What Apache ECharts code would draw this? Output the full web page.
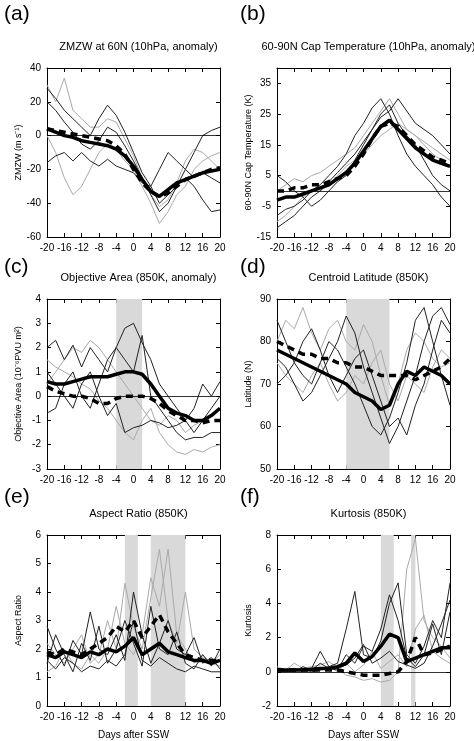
<!DOCTYPE html>
<html><head><meta charset="utf-8">
<script src="https://cdn.jsdelivr.net/npm/echarts@6/dist/echarts.min.js"></script>
<style>html,body{margin:0;background:#fff}#c{width:474px;height:741px}</style>
</head><body><div id="c"></div>
<script>
const days=[-20,-18,-16,-14,-12,-10,-8,-6,-4,-2,0,2,4,6,8,10,12,14,16,18,20];
const xTicks=[-20,-16,-12,-8,-4,0,4,8,12,16,20];
// (a) ZMZW
const aMean=[4,2,0,-1,-3,-4,-5,-6,-8,-12,-18,-26,-33,-36,-32,-28,-26,-24,-22,-21,-20];
const aDash=[4,3,2,1,0,-1,-2,-3,-6,-11,-20,-28,-33,-36,-34,-30,-26,-24,-22,-20,-19];
const aB1=[28,22,15,10,5,0,10,18,12,2,-10,-22,-30,-40,-35,-30,-25,-30,-38,-45,-44];
const aB2=[20,15,8,2,-5,-8,-3,5,2,-6,-15,-25,-35,-45,-40,-30,-20,-10,0,3,5];
const aB3=[-16,-12,-10,-15,-10,-15,-18,-14,-18,-20,-22,-28,-30,-20,-10,-15,-20,-25,-22,-25,-28];
const aG1=[0,-10,-25,-35,-30,-20,-10,-5,-8,-15,-20,-30,-40,-52,-45,-35,-30,-20,-15,-12,-10];
const aG2=[30,20,34,15,10,5,5,10,8,-2,-12,-25,-35,-42,-38,-28,-15,-8,-10,-15,-20];
// (b) Cap temperature
const bMean=[-3,-2,-2,-1,0,1,2,4,6,9,13,17,21,23,20,17,14,12,10,9,8];
const bDash=[0,0,1,1,2,2,3,4,5,8,12,17,21,22,21,18,15,13,11,10,9];
const bB1=[-8,-6,-5,-3,0,2,5,8,12,18,22,27,30,25,18,12,8,5,2,-2,-5];
const bB2=[5,3,0,-2,-5,-3,0,3,5,10,15,20,25,28,22,18,15,10,5,2,0];
const bB3=[-12,-10,-8,-5,-2,0,3,6,9,12,16,20,24,26,30,26,22,20,18,15,12];
const bG1=[0,2,4,3,5,6,8,10,12,14,18,22,26,30,25,20,18,15,12,10,8];
const bG2=[-10,-8,-5,-2,0,0,2,5,8,10,12,15,18,20,22,20,18,16,14,12,10];
// (c) Objective area
const cMean=[0.6,0.5,0.5,0.6,0.7,0.8,0.8,0.8,0.9,1.0,1.0,0.9,0.5,0.0,-0.5,-0.7,-0.8,-1.0,-1.0,-0.8,-0.5];
const cDash=[0.4,0.2,0.1,0,0,-0.1,-0.3,-0.3,-0.1,0,0,0,-0.1,-0.3,-0.6,-0.8,-1.0,-1.0,-1.1,-1.0,-1.0];
const cB1=[2,2.3,1.5,2.1,1.2,2,1.5,1,2,2.8,3,2.2,1.5,0.5,0,-0.5,-1,-1.5,-1,-0.5,0];
const cB2=[-0.7,-0.5,0.5,1,0,-0.5,0.5,1.5,2,1.5,1,2.5,0,-0.5,-1,-1.5,-1.8,-1.7,-1.7,-1.5,-1.5];
const cB3=[1,0.5,0,-0.5,0.5,1,0,-0.8,-0.3,-1.5,-1.3,-1.2,-1.0,-1.1,-1.3,-1.2,-1.0,-0.5,0.5,0,0.6];
const cG1=[0.5,1,1.5,2,1.8,2.3,2,1.5,1,0.5,0,-0.5,-1,-1.2,-0.8,-1,-1.5,-1.2,-1,-0.8,-0.5];
const cG2=[1.5,1.2,1.0,0.8,0.5,0.3,-0.2,-0.5,-1,-1.5,-1.8,-1,-0.5,-1.5,-2.0,-2.3,-2.4,-2.2,-2.3,-2.1,-2.0];
// (d) Centroid latitude
const dMean=[78,77,76,75,74,73,72,71,70,68,67,66,64,65,70,73,72,74,73,72,70];
const dDash=[80,79,78,77,77,76,76,75,75,74,74,73,72,72,72,72,71,72,73,74,76];
const dB1=[85,80,75,72,70,75,80,78,74,70,65,60,58,62,68,75,85,88,80,72,65];
const dB2=[70,72,75,80,83,78,72,68,72,76,78,72,66,60,62,58,65,70,78,85,82];
const dB3=[76,74,70,66,68,72,76,80,86,82,74,68,62,56,60,66,72,80,86,88,84];
const dG1=[80,85,83,88,82,78,83,85,80,78,84,80,72,65,70,78,82,80,76,74,75];
const dG2=[75,72,70,68,72,75,70,66,68,72,70,75,78,70,66,72,70,68,74,78,76];
// (e) Aspect ratio
const eMean=[1.8,1.7,1.9,1.8,1.7,1.9,1.8,2.0,1.9,2.1,2.4,1.8,2.0,2.2,1.9,1.8,1.7,1.6,1.6,1.5,1.6];
const eDash=[1.9,1.8,2.0,1.9,1.8,2.0,2.2,2.4,2.8,2.6,3.0,2.4,2.8,3.2,2.6,2.2,1.8,1.7,1.6,1.6,1.6];
const eB1=[1.5,2.5,1.8,1.2,2.2,1.6,2.8,1.5,2.0,3.0,2.2,1.4,3.5,2.0,1.8,2.6,1.5,1.3,1.8,1.4,2.0];
const eB2=[2.8,2.0,1.4,2.3,1.8,3.3,2.0,1.8,2.5,1.6,4.0,2.5,1.5,2.2,3.0,2.0,1.8,2.4,1.5,1.7,1.3];
const eB3=[1.6,1.3,1.7,1.5,1.2,1.4,1.3,1.6,1.4,1.8,3.0,1.6,1.4,1.7,1.5,1.3,1.2,1.4,1.3,1.2,1.2];
const eG1=[1.2,1.4,2.0,1.5,1.3,1.8,1.5,2.0,3.5,2.2,1.8,2.5,4.5,3.5,5.5,2.5,2.0,1.5,1.8,1.5,1.4];
const eG2=[2.2,1.8,1.5,2.0,2.5,1.5,1.8,3.0,2.0,4.3,2.8,2.0,3.8,5.5,3.0,2.2,4.0,2.0,1.7,1.5,1.8];
// (f) Kurtosis
const fMean=[0.1,0.1,0.1,0.1,0.15,0.2,0.2,0.3,0.5,1.1,0.6,0.9,1.5,2.2,2.0,0.6,0.8,1.0,1.2,1.4,1.4];
const fDash=[0.1,0.1,0.1,0.1,0.1,0.1,0.1,0.1,0,-0.1,-0.2,-0.2,-0.2,-0.1,0,0.6,2.0,1.0,1.1,1.3,1.5];
const fB1=[0.1,0.1,0.2,0.1,0.2,1.2,0.3,0.5,2.5,4.7,1.0,0.8,1.8,4.0,5.2,1.0,0.5,1.5,3.0,2.0,5.2];
const fB2=[0.2,0.1,0,0.3,0.1,0.5,0.2,0.1,1.0,0.5,1.5,1.2,2.5,4.5,3.0,0.8,0.3,1.0,2.8,1.0,3.5];
const fB3=[0.1,0,0.1,0.2,0,0.1,0.3,0.2,0.4,0.8,1.6,0.5,0.8,1.2,0.6,0.4,0.2,0.5,1.5,2.8,4.2];
const fG1=[0.3,0.1,0.5,0.2,0.3,0.4,0.6,0.2,-0.2,-0.3,-0.5,-0.4,-0.6,-0.5,0,6.0,7.8,3.0,2.0,1.5,0.8];
const fG2=[0.1,0,0.2,0.1,0,0.2,0.3,0,0.5,0,0.4,1.2,0.2,0.6,1.0,0.3,2.5,3.3,1.2,0.8,0.5];

const panels=[
 {lab:'(a)',title:'ZMZW at 60N (10hPa, anomaly)',yname:'ZMZW (m s⁻¹)',min:-60,max:40,ticks:[-60,-40,-20,0,20,40],zero:true,shade:[],
  mean:aMean,dash:aDash,blk:[aB1,aB2,aB3],gry:[aG1,aG2],g:{left:47,top:68,width:173,height:169}},
 {lab:'(b)',title:'60-90N Cap Temperature (10hPa, anomaly)',yname:'60-90N Cap Temperature (K)',min:-15,max:40,ticks:[-15,-5,5,15,25,35],zero:true,shade:[],
  mean:bMean,dash:bDash,blk:[bB1,bB2,bB3],gry:[bG1,bG2],g:{left:277,top:68,width:173,height:169}},
 {lab:'(c)',title:'Objective Area (850K, anomaly)',yname:'Objective Area (10⁻⁶PVU m²)',min:-3,max:4,ticks:[-3,-2,-1,0,1,2,3,4],zero:true,shade:[[-4,2]],
  mean:cMean,dash:cDash,blk:[cB1,cB2,cB3],gry:[cG1,cG2],g:{left:47,top:299,width:173,height:170}},
 {lab:'(d)',title:'Centroid Latitude (850K)',yname:'Latitude (N)',min:50,max:90,ticks:[50,60,70,80,90],zero:false,shade:[[-4,6]],
  mean:dMean,dash:dDash,blk:[dB1,dB2,dB3],gry:[dG1,dG2],g:{left:277,top:299,width:173,height:170}},
 {lab:'(e)',title:'Aspect Ratio (850K)',yname:'Aspect Ratio',min:0,max:6,ticks:[0,1,2,3,4,5,6],zero:false,shade:[[-2,1],[4,12]],
  mean:eMean,dash:eDash,blk:[eB1,eB2,eB3],gry:[eG1,eG2],g:{left:47,top:535,width:173,height:171},xname:'Days after SSW'},
 {lab:'(f)',title:'Kurtosis (850K)',yname:'Kurtosis',min:-2,max:8,ticks:[-2,0,2,4,6,8],zero:true,shade:[[4,7],[11,12]],
  mean:fMean,dash:fDash,blk:[fB1,fB2,fB3],gry:[fG1,fG2],g:{left:277,top:535,width:173,height:171},xname:'Days after SSW'}
];
const F='Liberation Sans, Arial, sans-serif';
const opt={animation:false,backgroundColor:'#fff',grid:[],xAxis:[],yAxis:[],series:[],title:[],graphic:[]};
const pair=(arr)=>days.map((d,i)=>[d,arr[i]]);
panels.forEach((p,k)=>{
  opt.grid.push(p.g);
  const ax0=opt.xAxis.length, ay0=opt.yAxis.length;
  const lineS={show:true,onZero:false,lineStyle:{color:'#000',width:1}};
  const tick={show:true,inside:true,length:4,lineStyle:{color:'#000'}};
  opt.xAxis.push({type:'value',gridIndex:k,position:'bottom',min:-20,max:20,axisLine:lineS,axisTick:Object.assign({customValues:xTicks},tick),
    axisLabel:{customValues:xTicks,color:'#000',fontSize:10,fontFamily:F,margin:6},splitLine:{show:false},
    name:p.xname||'',nameLocation:'middle',nameGap:24,nameTextStyle:{fontSize:10,fontFamily:F,color:'#000'}});
  opt.xAxis.push({type:'value',gridIndex:k,position:'top',min:-20,max:20,axisLine:lineS,axisTick:Object.assign({customValues:xTicks},tick),axisLabel:{show:false},splitLine:{show:false}});
  opt.yAxis.push({type:'value',gridIndex:k,position:'left',min:p.min,max:p.max,axisLine:lineS,axisTick:Object.assign({customValues:p.ticks},tick),
    axisLabel:{customValues:p.ticks,color:'#000',fontSize:10,fontFamily:F,margin:6},splitLine:{show:false},
    name:p.yname,nameLocation:'middle',nameGap:24,nameRotate:90,nameTextStyle:{fontSize:9,fontFamily:F,color:'#000'}});
  opt.yAxis.push({type:'value',gridIndex:k,position:'right',min:p.min,max:p.max,axisLine:lineS,axisTick:Object.assign({customValues:p.ticks},tick),axisLabel:{show:false},splitLine:{show:false}});
  const base={type:'line',xAxisIndex:ax0,yAxisIndex:ay0,showSymbol:false,symbol:'none',silent:true};
  opt.series.push(Object.assign({},base,{data:[],markArea:{silent:true,itemStyle:{color:'#d9d9d9'},data:p.shade.map(s=>[{xAxis:s[0]},{xAxis:s[1]}])},
    markLine:p.zero?{silent:true,symbol:'none',label:{show:false},lineStyle:{color:'#000',width:0.8,type:'solid'},data:[{yAxis:0}]}:undefined}));
  p.gry.forEach(a=>opt.series.push(Object.assign({},base,{data:pair(a),lineStyle:{color:'#aaa',width:1}})));
  p.blk.forEach(a=>opt.series.push(Object.assign({},base,{data:pair(a),lineStyle:{color:'#222',width:1}})));
  opt.series.push(Object.assign({},base,{data:pair(p.dash),lineStyle:{color:'#000',width:3.5,type:[7,5]}}));
  opt.series.push(Object.assign({},base,{data:pair(p.mean),lineStyle:{color:'#000',width:3.5}}));
  opt.title.push({text:p.title,left:p.g.left+p.g.width/2,top:p.g.top-32,textAlign:'center',textStyle:{fontSize:11,fontWeight:'normal',fontFamily:F,color:'#000'}});
  opt.graphic.push({type:'text',left:(k%2)?240:4,top:p.g.top-(k<2?64:(k<4?42:48)),style:{text:p.lab,fontSize:21,fontFamily:F,fill:'#000'}});
});
const ch=echarts.init(document.getElementById('c'));
ch.setOption(opt);
</script></body></html>
